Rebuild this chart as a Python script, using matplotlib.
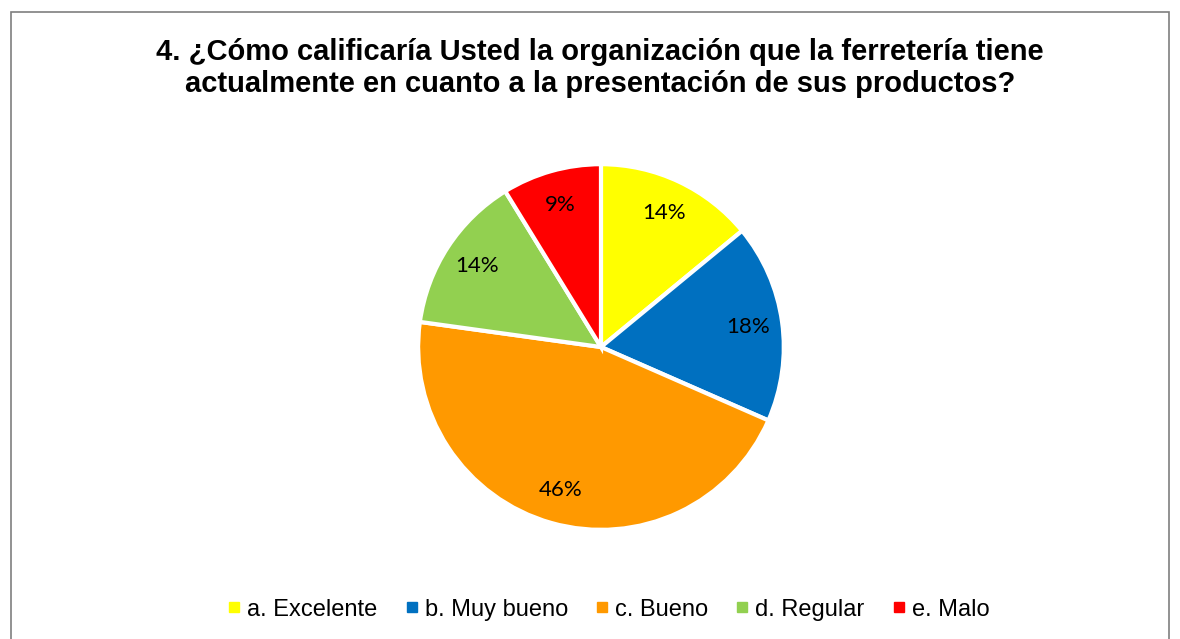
import matplotlib.pyplot as plt
from matplotlib.lines import Line2D
from matplotlib.patches import Rectangle

title = "4. ¿Cómo calificaría Usted la organización que la ferretería tiene\nactualmente en cuanto a la presentación de sus productos?"
categories = ["a. Excelente", "b. Muy bueno", "c. Bueno", "d. Regular", "e. Malo"]
counts = [8, 10, 26, 8, 5]
colors = ["#FFFF00", "#0070C0", "#FF9900", "#92D050", "#FF0000"]

fig = plt.figure(figsize=(11.8, 6.39), dpi=100)

# chart frame
fig.patches.append(Rectangle((11 / 1180, -0.01), 1158 / 1180, (639 - 12) / 639 + 0.01,
                             transform=fig.transFigure, fill=False,
                             edgecolor="#7f7f7f", linewidth=1.2))

fig.text(0.5085, 0.894, title, ha="center", va="center", fontsize=21,
         fontweight="bold", family="Liberation Sans", linespacing=1.2)

ax = fig.add_axes([0.3559, 0.1737, 0.3068, 0.5665])
wedges, texts, autotexts = ax.pie(
    counts, colors=colors, startangle=90, counterclock=False,
    autopct="%1.0f%%", pctdistance=0.81,
    wedgeprops=dict(edgecolor="white", linewidth=3),
    textprops=dict(fontsize=16, family="Lato"))
ax.set_aspect("equal")
ax.set_xlim(-0.99, 0.99)
ax.set_ylim(-0.99, 0.99)

handles = [Line2D([], [], marker="s", linestyle="none", markersize=7,
                  markerfacecolor=c, markeredgecolor=c) for c in colors]
fig.legend(handles, categories, loc="center", bbox_to_anchor=(0.516, 0.046),
           ncol=5, frameon=False, handlelength=0.5, handletextpad=0.3,
           columnspacing=1.2, prop=dict(family="Liberation Sans", size=17))

fig.savefig("out.png", dpi=100)
